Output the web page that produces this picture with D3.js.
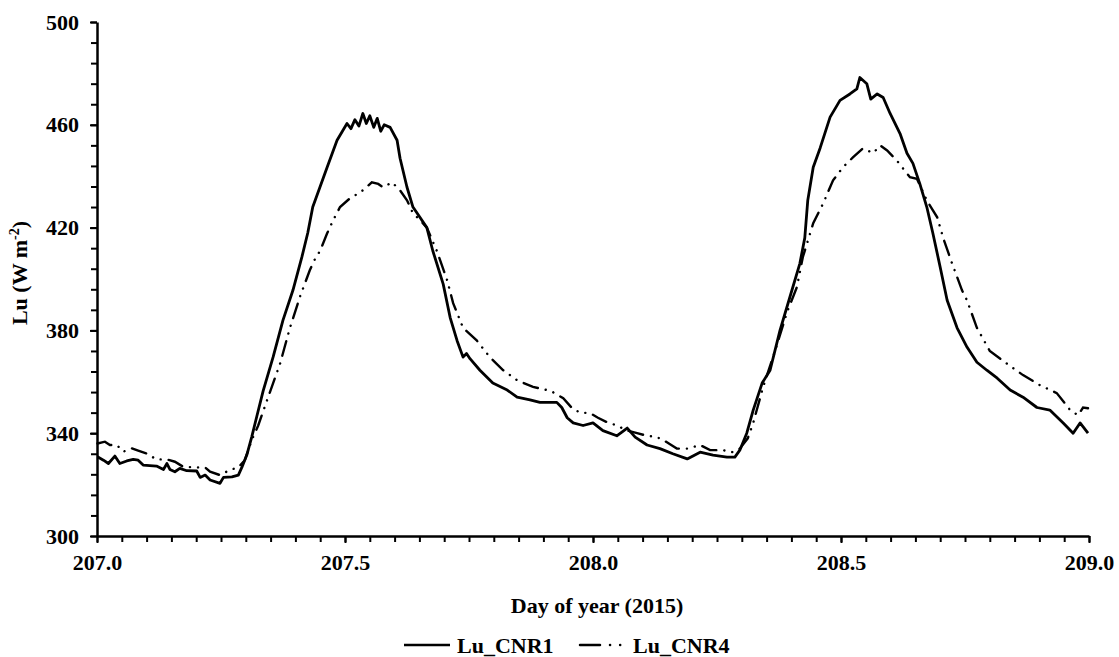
<!DOCTYPE html>
<html>
<head>
<meta charset="utf-8">
<script src="https://cdn.jsdelivr.net/npm/d3@7"></script>
<style>
body { margin: 0; background: #fff; }
svg text { font-family: "Liberation Serif", "Times New Roman", serif; font-weight: bold; fill: #000; }
</style>
</head>
<body>
<div id="chart-area"></div>
<script>
// day of year, Lu (W m-2)
const cnr1Points = [
	[207.001,330.8],[207.013,329.5],[207.023,328.2],[207.036,331.1],[207.046,328.2],[207.060,329.2],
	[207.073,329.8],[207.083,329.5],[207.093,327.6],[207.120,327.2],[207.134,325.9],[207.141,328.2],
	[207.147,325.9],[207.157,325.0],[207.167,326.3],[207.181,325.4],[207.201,325.3],[207.208,322.8],
	[207.218,323.7],[207.228,321.8],[207.248,320.5],[207.255,322.8],[207.272,323.0],[207.285,323.7],
	[207.292,326.7],[207.302,331.5],[207.312,338.6],[207.322,346.4],[207.335,356.5],[207.355,369.6],
	[207.375,384.0],[207.395,395.6],[207.413,408.5],[207.425,418.0],[207.435,428.0],[207.464,443.5],
	[207.484,454.0],[207.504,460.5],[207.512,458.5],[207.520,462.0],[207.528,459.5],[207.536,464.4],
	[207.543,460.5],[207.550,463.5],[207.558,459.0],[207.565,462.5],[207.572,457.5],[207.579,460.0],
	[207.591,459.0],[207.605,454.0],[207.611,447.0],[207.625,435.7],[207.637,428.0],[207.651,424.0],
	[207.665,420.0],[207.677,411.0],[207.698,398.0],[207.712,385.0],[207.726,376.0],[207.738,369.6],
	[207.745,371.0],[207.752,369.0],[207.772,364.5],[207.798,359.5],[207.827,356.8],[207.847,354.0],
	[207.873,353.0],[207.893,352.0],[207.927,352.0],[207.937,350.0],[207.948,346.0],[207.960,344.0],
	[207.980,343.0],[208.000,344.0],[208.020,341.0],[208.048,339.0],[208.069,342.0],[208.085,338.5],
	[208.109,335.4],[208.135,334.0],[208.161,332.0],[208.190,330.0],[208.216,332.6],[208.242,331.5],
	[208.270,330.7],[208.286,330.7],[208.296,333.4],[208.310,340.0],[208.323,349.0],[208.341,359.5],
	[208.357,364.5],[208.377,380.0],[208.397,393.0],[208.417,406.0],[208.427,416.0],[208.433,430.6],
	[208.444,443.5],[208.458,451.0],[208.478,463.0],[208.498,469.5],[208.518,472.0],[208.532,474.0],
	[208.538,478.4],[208.552,476.0],[208.560,470.0],[208.573,472.0],[208.585,470.6],[208.599,464.4],
	[208.619,456.6],[208.633,448.9],[208.645,445.0],[208.659,437.0],[208.673,428.0],[208.685,418.0],
	[208.700,404.6],[208.714,391.7],[208.734,381.0],[208.754,373.5],[208.774,367.6],[208.794,364.5],
	[208.815,361.4],[208.841,356.8],[208.867,354.0],[208.895,350.0],[208.921,349.0],[208.948,344.0],
	[208.968,340.0],[208.982,344.0],[208.998,340.0]
]

const cnr4Points = [
	[207.001,336.0],[207.016,336.7],[207.026,335.4],[207.040,335.4],[207.053,332.8],[207.070,334.1],
	[207.083,333.2],[207.100,332.1],[207.120,329.8],[207.141,329.8],[207.157,328.9],[207.174,326.9],
	[207.198,326.7],[207.218,326.7],[207.228,325.0],[207.248,323.7],[207.268,325.7],[207.285,326.7],
	[207.298,329.5],[207.312,337.3],[207.325,343.0],[207.345,354.0],[207.369,367.0],[207.389,381.0],
	[207.409,393.0],[207.429,403.4],[207.440,408.0],[207.450,411.0],[207.464,417.8],[207.476,422.8],
	[207.490,428.0],[207.510,431.4],[207.524,433.0],[207.536,434.5],[207.554,437.6],[207.567,437.0],
	[207.577,435.7],[207.595,437.6],[207.611,434.5],[207.625,430.6],[207.637,425.6],[207.651,423.0],
	[207.665,420.0],[207.685,411.0],[207.706,399.5],[207.718,390.6],[207.738,381.0],[207.766,376.0],
	[207.792,369.6],[207.819,364.5],[207.847,360.6],[207.879,358.0],[207.907,356.8],[207.919,356.0],
	[207.940,353.6],[207.958,349.7],[207.974,348.0],[207.994,347.8],[208.010,346.0],[208.028,344.3],
	[208.048,343.0],[208.069,341.0],[208.089,340.0],[208.109,339.0],[208.129,338.5],[208.149,336.5],
	[208.169,334.0],[208.190,334.0],[208.216,335.4],[208.236,333.4],[208.262,333.4],[208.282,332.6],
	[208.296,334.0],[208.312,338.0],[208.323,344.0],[208.343,358.0],[208.367,372.0],[208.391,387.0],
	[208.411,396.8],[208.423,408.5],[208.444,421.7],[208.464,429.4],[208.484,438.4],[208.504,443.5],
	[208.524,447.3],[208.544,450.8],[208.565,449.0],[208.579,452.0],[208.593,450.0],[208.613,446.0],
	[208.639,439.6],[208.653,439.0],[208.673,430.6],[208.694,424.0],[208.706,416.0],[208.724,406.0],
	[208.744,395.6],[208.754,391.7],[208.774,381.0],[208.800,372.0],[208.835,367.0],[208.867,362.6],
	[208.901,358.7],[208.935,355.6],[208.962,349.0],[208.978,347.0],[208.988,350.0],[208.998,349.7]
]

const seriesNames = ["Lu_CNR1","Lu_CNR4"]
const xTicks = [207.0,207.5,208.0,208.5,209.0]
const yTicks = [300,340,380,420,460,500]

const MARGIN = {LEFT:97,RIGHT:30,TOP:22,BOTTOM:121}
const WIDTH = 1119 - MARGIN.LEFT - MARGIN.RIGHT
const HEIGHT = 657 - MARGIN.TOP - MARGIN.BOTTOM
const DASH = "15,8,0.1,8,0.1,8"
const LEGEND_DASH = "20,10,0.1,10,0.1,20"

const svg = d3.select("#chart-area").append("svg")
	.attr("width",1119)
	.attr("height",657)

const g = svg.append("g")
	.attr("transform",`translate(${MARGIN.LEFT},${MARGIN.TOP})`)

const x = d3.scaleLinear()
	.domain([207,209])
	.range([0,WIDTH])

const y = d3.scaleLinear()
	.domain([300,500])
	.range([HEIGHT,0])

// minor ticks first, majors on top
g.append("g")
	.attr("transform",`translate(0,${HEIGHT})`)
	.call(d3.axisBottom(x).tickValues(d3.range(0,41).map(i=>207+i*0.05)).tickSize(6).tickFormat(""))
	.call(a=>a.select(".domain").remove())
	.selectAll("line").attr("stroke-width",2)

g.append("g")
	.call(d3.axisLeft(y).tickValues(d3.range(0,26).map(i=>300+i*8)).tickSize(6).tickFormat(""))
	.call(a=>a.select(".domain").remove())
	.selectAll("line").attr("stroke-width",2)

const xAxisGroup = g.append("g")
	.attr("class","x axis")
	.attr("transform",`translate(0,${HEIGHT})`)
	.call(d3.axisBottom(x).tickValues(xTicks).tickSize(7).tickSizeOuter(0).tickFormat(d3.format(".1f")))

xAxisGroup.select(".domain").attr("stroke-width",2.5)
xAxisGroup.selectAll("line").attr("stroke-width",2)
xAxisGroup.selectAll("text")
	.attr("y",34)
	.attr("dy",0)
	.attr("font-size","22px")
	.attr("font-family","Liberation Serif")

const yAxisGroup = g.append("g")
	.attr("class","y axis")
	.call(d3.axisLeft(y).tickValues(yTicks).tickSize(7).tickSizeOuter(0))

yAxisGroup.select(".domain").attr("stroke-width",2.5)
yAxisGroup.selectAll("line").attr("stroke-width",2)
yAxisGroup.selectAll("text")
	.attr("x",-18)
	.attr("font-size","22px")
	.attr("font-family","Liberation Serif")

const line = d3.line()
	.x(d=>x(d[0]))
	.y(d=>y(d[1]))

g.append("path")
	.datum(cnr4Points)
	.attr("fill","none")
	.attr("stroke","#000")
	.attr("stroke-width",2.4)
	.attr("stroke-linecap","round")
	.attr("stroke-dasharray",DASH)
	.attr("d",line)

g.append("path")
	.datum(cnr1Points)
	.attr("fill","none")
	.attr("stroke","#000")
	.attr("stroke-width",2.8)
	.attr("stroke-linejoin","round")
	.attr("d",line)

// axis titles
svg.append("text")
	.attr("x",597)
	.attr("y",613)
	.attr("font-size","22px")
	.attr("text-anchor","middle")
	.text("Day of year (2015)")

const yLabel = svg.append("text")
	.attr("transform","translate(27,273) rotate(-90)")
	.attr("font-size","22px")
	.attr("text-anchor","middle")
yLabel.append("tspan").text("Lu (W m")
yLabel.append("tspan").attr("font-size","14px").attr("dy",-8).text("-2")
yLabel.append("tspan").attr("dy",8).text(")")

// legend
const legend = svg.append("g")
	.attr("transform","translate(404,645)")

const legendItems = [
	{name:seriesNames[0],x0:0,x1:46,tx:53,dash:null},
	{name:seriesNames[1],x0:176,x1:218,tx:229,dash:LEGEND_DASH}
]

legendItems.forEach(item=>{
	legend.append("line")
		.attr("x1",item.x0)
		.attr("x2",item.x1)
		.attr("stroke","#000")
		.attr("stroke-width",2.5)
		.attr("stroke-linecap",item.dash ? "round" : "butt")
		.attr("stroke-dasharray",item.dash)
	legend.append("text")
		.attr("x",item.tx)
		.attr("y",8)
		.attr("font-size","22px")
		.text(item.name)
})
</script>
</body>
</html>
